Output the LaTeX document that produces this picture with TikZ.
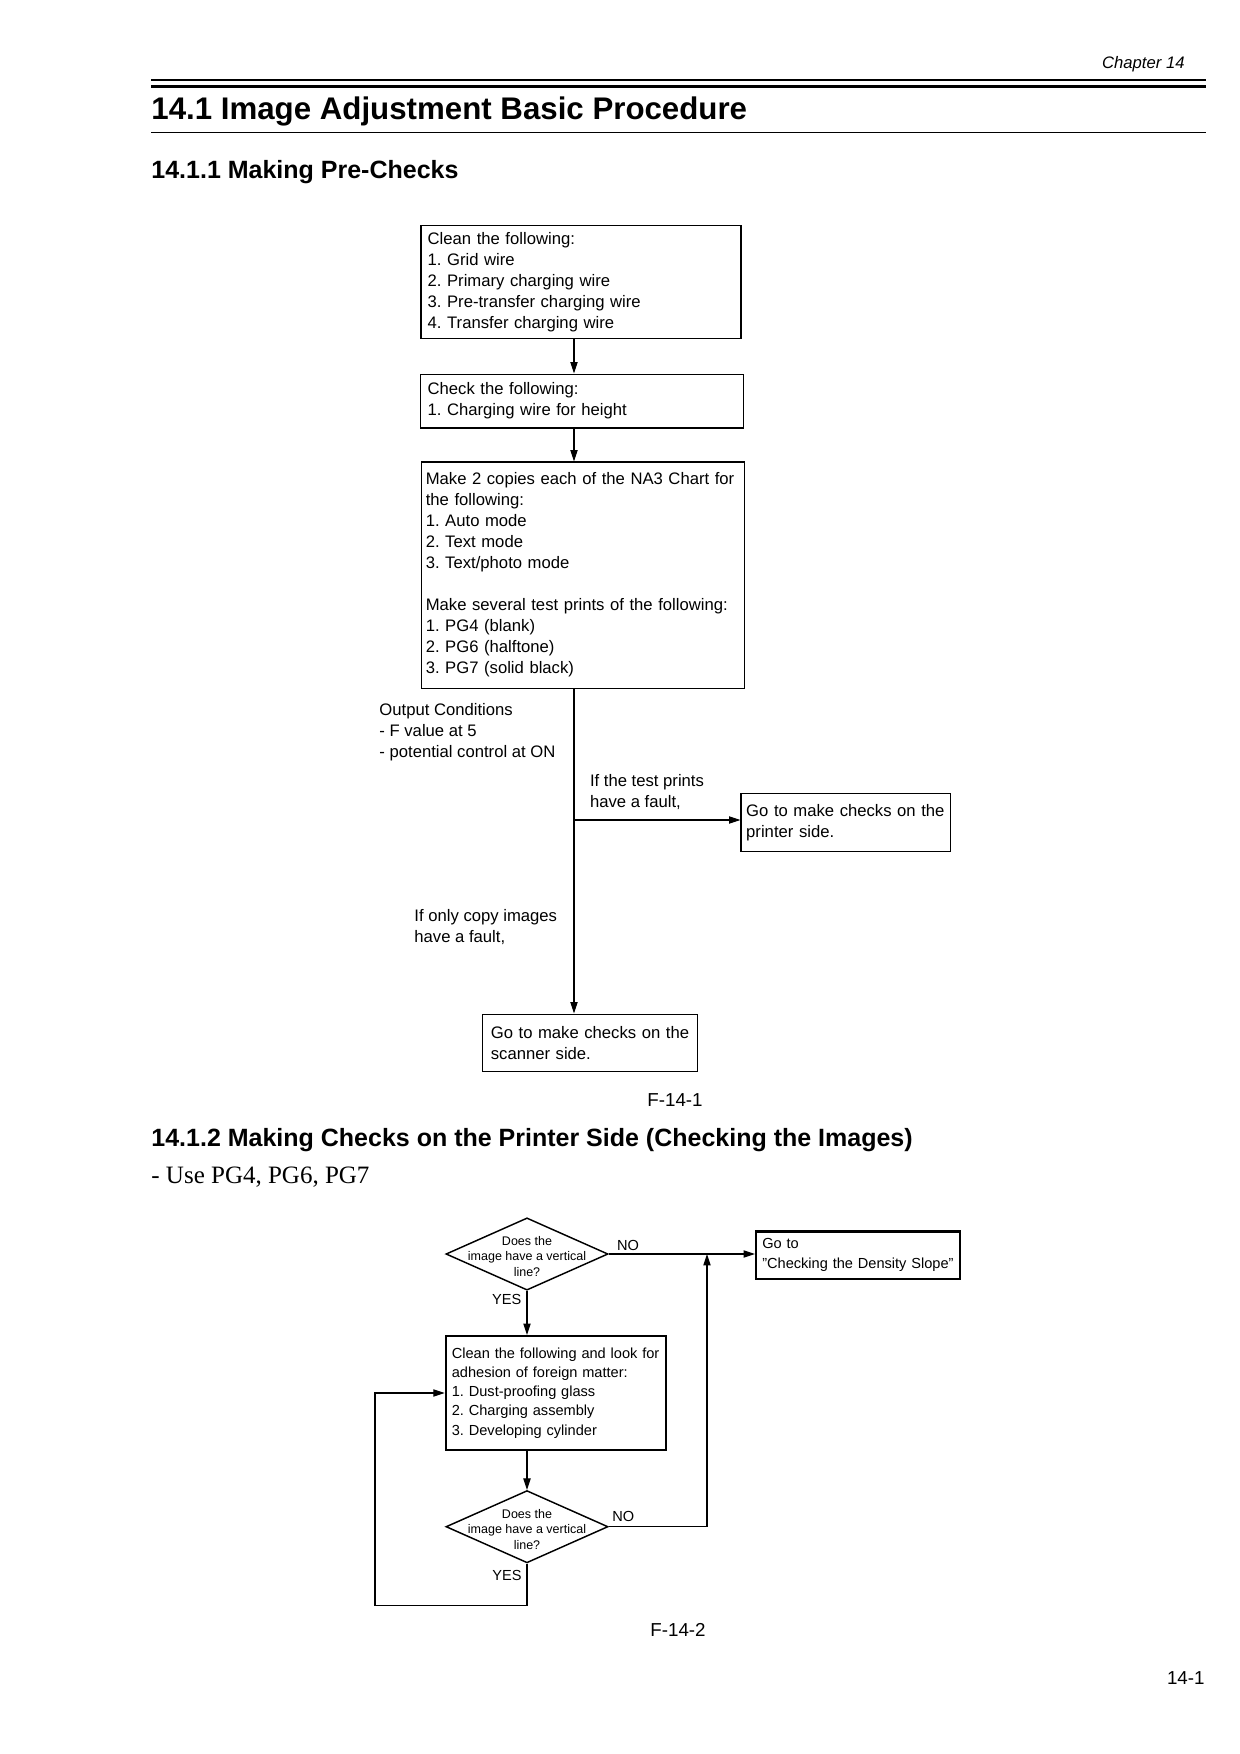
\documentclass[tikz,border=0pt]{standalone}
\usepackage{fontspec}
\setmainfont{Liberation Sans}
\newfontfamily\timesfont{Liberation Serif}
\usetikzlibrary{arrows.meta,shapes.geometric}
\frenchspacing

\begin{document}
\begin{tikzpicture}[x=0.48pt,y=-0.48pt,
  box/.style={shape=rectangle,draw=black,line width=0.5pt,align=left,font=\fontsize{8}{10.08}\selectfont\frenchspacing},
  boldbox/.style={box,line width=1pt,font=\fontsize{7}{9.2}\selectfont\frenchspacing},
  dia/.style={shape=diamond,draw=black,line width=0.7pt,minimum width=77.8pt,minimum height=34.7pt,inner sep=0pt},
  diatext/.style={align=center,inner sep=0pt,font=\fontsize{6}{7.44}\selectfont},
  note/.style={anchor=base west,inner sep=0pt,align=left,font=\fontsize{8}{10.08}\selectfont},
  yn/.style={inner sep=0pt,font=\fontsize{7}{8}\selectfont},
  arr/.style={-{Triangle[length=5.5pt,width=3.5pt]},line width=0.5pt}]

\useasboundingbox (0,0) rectangle (1240,1754);

%page header
\node [anchor=base east,inner sep=0pt,font=\fontsize{8}{10}\selectfont\itshape] at (1185,68) (chap) {Chapter 14};
\draw [line width=0.8pt] (151,80) -- (1206,80);
\draw [line width=1.6pt] (151,86.5) -- (1206,86.5);
\node [anchor=base west,inner sep=0pt,font=\fontsize{15}{18}\selectfont\bfseries] at (151,119) (title) {14.1 Image Adjustment Basic Procedure};
\draw [line width=0.7pt] (151,132.3) -- (1206,132.3);
\node [anchor=base west,inner sep=0pt,font=\fontsize{12}{14}\selectfont\bfseries] at (151,178) (sec1) {14.1.1 Making Pre-Checks};

%first chart: boxes
\node [box,minimum width=153.6pt,minimum height=53.9pt,text width=147.2pt,inner xsep=3.2pt] at (581,282) (clean) {Clean the following:\\1. Grid wire\\2. Primary charging wire\\3. Pre-transfer charging wire\\4. Transfer charging wire};
\node [box,minimum width=154.6pt,minimum height=25.9pt,text width=148.2pt,inner xsep=3.2pt] at (582,401) (check) {Check the following:\\1. Charging wire for height};
\node [box,minimum width=155.1pt,minimum height=108.5pt,text width=151.3pt,inner xsep=1.9pt] at (583.4,575) (copies) {Make 2 copies each of the NA3 Chart for\\the following:\\1. Auto mode\\2. Text mode\\3. Text/photo mode\\[10.08pt]Make several test prints of the following:\\1. PG4 (blank)\\2. PG6 (halftone)\\3. PG7 (solid black)};
\node [box,minimum width=100.5pt,minimum height=27.4pt,text width=97.5pt,inner xsep=1.5pt] at (845.7,822.5) (printer) {\hspace*{1pt}Go to make checks on the\\\hspace*{1pt}printer side.};
\node [box,minimum width=103.5pt,minimum height=27.8pt,text width=98.5pt,inner xsep=2.5pt] at (589.9,1043) (scanner) {\hspace*{1.7pt}Go to make checks on the\\\hspace*{1.7pt}scanner side.};

%first chart: notes
\node [note] at (379,757.7) (cond) {Output Conditions\\- F value at 5\\- potential control at ON};
\node [note] at (589.6,807.7) (fault1) {If the test prints\\have a fault,};
\node [note] at (414,942.7) (fault2) {If only copy images\\have a fault,};

%first chart: lines
\coordinate (spine) at (574,0);
\coordinate (fork) at (574,820);
\draw [arr] (spine |- clean.south) -- (spine |- check.north);
\draw [arr] (spine |- check.south) -- (spine |- copies.north);
\draw [line width=1pt] (spine |- copies.south) -- (fork);
\draw [arr] (fork) -- (fork -| printer.west);
\draw [arr] (fork) -- (spine |- scanner.north);

\node [anchor=base,inner sep=0pt,font=\fontsize{9}{11}\selectfont] at (675,1106) (fig1) {F-14-1};

%second section
\node [anchor=base west,inner sep=0pt,font=\fontsize{12}{14}\selectfont\bfseries] at (151,1146) (sec2) {14.1.2 Making Checks on the Printer Side (Checking the Images)};
\node [anchor=base west,inner sep=0pt,font=\fontsize{12}{14}\selectfont\timesfont] at (151,1183) (use) {- Use PG4, PG6, PG7};

%second chart: decisions and boxes
\node [dia] at (527,1254) (vline1) {};
\node [diatext] at (527,1256.5) (vtext1) {Does the\\image have a vertical\\line?};
\node [boldbox,minimum width=97.9pt,minimum height=22.4pt,text width=93.9pt,inner xsep=2pt,font=\fontsize{7}{9.6}\selectfont] at (858,1255) (density) {\hspace*{1pt}Go to\\\hspace*{1pt}"Checking the Density Slope"};
\node [boldbox,minimum width=105.7pt,minimum height=54.7pt,text width=99.9pt,inner xsep=2.9pt] at (555.9,1393) (wipe) {Clean the following and look for\\adhesion of foreign matter:\\1. Dust-proofing glass\\2. Charging assembly\\3. Developing cylinder};
\node [dia] at (527,1526.7) (vline2) {};
\node [diatext] at (527,1529.2) (vtext2) {Does the\\image have a vertical\\line?};

\node [yn,anchor=base west] at (616.7,1250) (no1) {NO};
\node [yn,anchor=base east] at (521.7,1304) (yes1) {YES};
\node [yn,anchor=base west] at (612,1521.7) (no2) {NO};
\node [yn,anchor=base east] at (522,1580) (yes2) {YES};

%second chart: lines
\coordinate (back) at (707,0);
\coordinate (loop) at (375,1605);
\draw [arr] (vline1.east) -- (vline1.east -| density.west);
\draw [arr] (vline1.south) -- (vline1.south |- wipe.north);
\draw [arr] (vline2.north |- wipe.south) -- (vline2.north);
\draw [arr] (vline2.east) -| (back |- vline1.east);
\draw [arr] (vline2.south) |- (loop) |- (wipe.west);

\node [anchor=base,inner sep=0pt,font=\fontsize{9}{11}\selectfont] at (678,1636) (fig2) {F-14-2};
\node [anchor=base east,inner sep=0pt,font=\fontsize{9}{11}\selectfont] at (1205,1684) (page) {14-1};
\end{tikzpicture}
\end{document}
